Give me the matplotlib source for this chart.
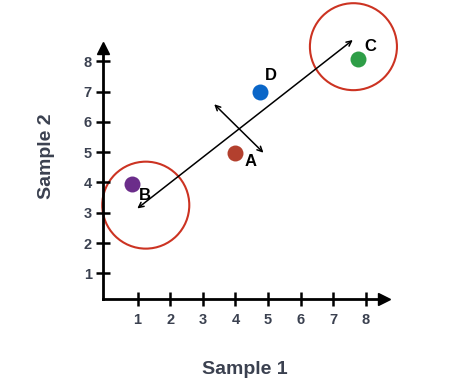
import matplotlib.pyplot as plt
from matplotlib.patches import Ellipse

plt.rcParams['font.family'] = ['Liberation Sans', 'DejaVu Sans']

# points
names = ['A', 'B', 'C', 'D']
xs = [3.99, 0.82, 7.77, 4.76]
ys = [4.98, 3.95, 8.06, 6.99]
colors = ['#b3402e', '#6b2d8a', '#2e9e47', '#0a66c8']
label_xy = [(4.48, 4.68), (1.22, 3.58), (8.13, 8.50), (5.08, 7.52)]

# arrows (principal directions)
long_arrow = [(0.99, 3.14), (7.60, 8.70)]
short_arrow = [(3.35, 6.58), (4.86, 4.98)]

# clusters
clusters = [(1.25, 3.25), (7.62, 8.48)]

ticks = [1, 2, 3, 4, 5, 6, 7, 8]
txt = '#3b4150'

fig = plt.figure(figsize=(4.72, 3.89), dpi=100)
ax = fig.add_axes([0.2225, 0.2195, 0.6216, 0.701])
ax.set_xlim(0, 9)
ax.set_ylim(0, 9)

ax.spines['top'].set_visible(False)
ax.spines['right'].set_visible(False)
ax.spines['left'].set_position(('data', -0.06))
ax.spines['bottom'].set_position(('data', 0.15))
for s in ['left', 'bottom']:
    ax.spines[s].set_linewidth(2)
ax.spines['left'].set_bounds(0.15, 8.4)
ax.spines['bottom'].set_bounds(-0.06, 8.4)
ax.plot([8.55], [0.15], marker='>', color='black', markersize=8, clip_on=False)
ax.plot([-0.06], [8.45], marker='^', color='black', markersize=8, clip_on=False)

ax.set_xticks(ticks)
ax.set_yticks(ticks)
ax.tick_params(direction='inout', length=10, width=1.8, color='black',
               labelsize=10.5, labelcolor=txt)
ax.tick_params(axis='y', pad=3)
ax.tick_params(axis='x', pad=5)
for lab in ax.get_xticklabels() + ax.get_yticklabels():
    lab.set_fontweight('bold')

for cx, cy in clusters:
    ax.add_patch(Ellipse((cx, cy), 2.67, 2.87, fill=False, edgecolor='#cc3322',
                         linewidth=1.5, clip_on=False))

for (x0, y0), (x1, y1) in [long_arrow, short_arrow]:
    ax.annotate('', xy=(x1, y1), xytext=(x0, y0),
                arrowprops=dict(arrowstyle='<->', color='black', lw=1.1,
                                shrinkA=0, shrinkB=0, mutation_scale=9),
                annotation_clip=False)

for n, x, y, c, (lx, ly) in zip(names, xs, ys, colors, label_xy):
    ax.plot(x, y, 'o', color=c, markersize=11.5, markeredgewidth=0, clip_on=False)
    ax.text(lx, ly, n, fontsize=12, fontweight='bold', color='black',
            ha='center', va='center')

fig.text(0.519, 0.051, 'Sample 1', fontsize=14, fontweight='bold', color=txt,
         ha='center', va='center')
fig.text(0.0975, 0.599, 'Sample 2', fontsize=14, fontweight='bold', color=txt,
         ha='center', va='center', rotation=90)

fig.savefig('out.png', dpi=100)
